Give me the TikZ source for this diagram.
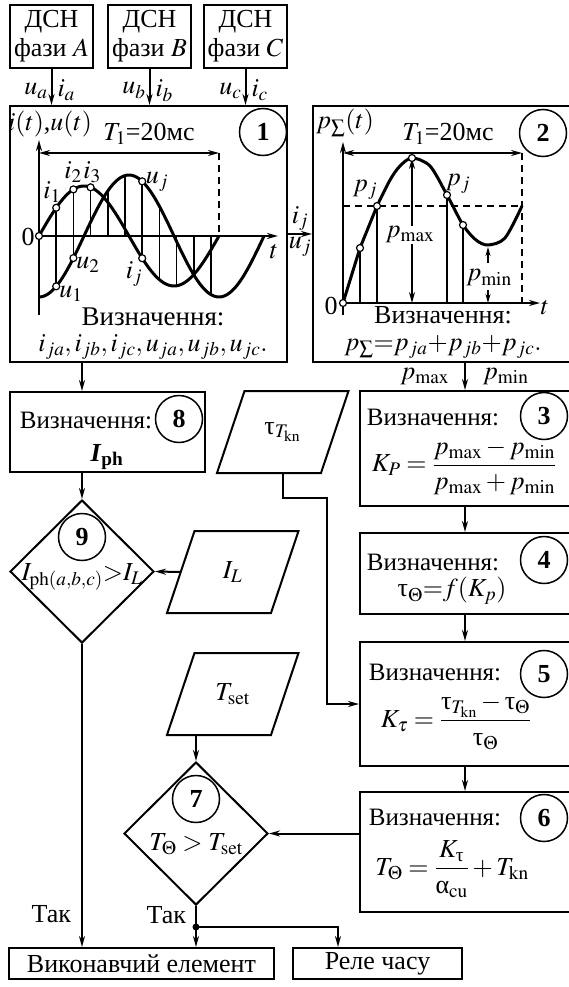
\documentclass[tikz,border=0pt]{standalone}
\usepackage{amsmath}
\usepackage{mathptmx}
\usepackage[no-math]{fontspec}
\setmainfont{Liberation Serif}
\usetikzlibrary{arrows.meta, calc, positioning, shapes.geometric}
\newcommand{\gtau}{\text{\upshape τ}}
\newcommand{\galpha}{\text{\upshape α}}
\tikzset{
  blk/.style={draw, line width=2pt, inner sep=0pt},
  num/.style={draw, circle, line width=1.5pt, minimum size=47pt, inner sep=0pt,
              font=\fontsize{26}{29}\selectfont\bfseries},
  decide/.style={draw, line width=2pt, diamond, minimum width=144pt,
                 minimum height=143pt, inner sep=0pt},
  flow/.style={line width=2pt, -{Stealth[length=11pt, width=6pt]}},
  link/.style={line width=2pt},
  wave/.style={line width=3pt, line join=round},
  hair/.style={line width=1.5pt},
  dim/.style={line width=1.5pt,
              {Stealth[length=11pt, width=6pt]}-{Stealth[length=11pt, width=6pt]}},
  dashline/.style={line width=1.5pt, dash pattern=on 7pt off 5pt},
  probe/.style={circle, draw, fill=white, line width=1.2pt, inner sep=0pt,
                minimum size=7pt},
  small/.style={font=\fontsize{25}{28}\selectfont},
}
\begin{document}
\begin{tikzpicture}[x=1pt, y=-1pt, inner sep=2pt, font=\fontsize{26}{29}\selectfont]
  \useasboundingbox (0,0) rectangle (568,987);
  % voltage sensors
  \node[blk, minimum width=83pt, minimum height=63pt, align=center] (dsnA) at (51.5,36.5) {ДСН\\фази $A$};
  \node[blk, minimum width=83pt, minimum height=63pt, align=center] (dsnB) at (149.5,36.5) {ДСН\\фази $B$};
  \node[blk, minimum width=83pt, minimum height=63pt, align=center] (dsnC) at (245.5,36.5) {ДСН\\фази $C$};
  % main blocks
  \node[blk, minimum width=277pt, minimum height=256pt] (b1) at (148.5,234) {};
  \node[blk, minimum width=257pt, minimum height=256pt] (b2) at (441.5,234) {};
  \node[blk, minimum width=210pt, minimum height=115pt] (b3) at (465,448.5) {};
  \node[blk, minimum width=210pt, minimum height=81pt] (b4) at (465,573.5) {};
  \node[blk, minimum width=210pt, minimum height=124pt] (b5) at (465,704) {};
  \node[blk, minimum width=210pt, minimum height=120pt] (b6) at (465,852) {};
  \node[blk, minimum width=195pt, minimum height=80pt] (b8) at (107.5,432) {};
  \node[decide] (d9) at (82,571.5) {};
  \node[decide] (d7) at (196,833.5) {};
  \node[blk, minimum width=265pt, minimum height=31pt] (act) at (141.5,963.5) {Виконавчий елемент};
  \node[blk, minimum width=169pt, minimum height=31pt] (relay) at (377.5,963.5) {Реле часу};
  % input data (parallelograms)
  \node (tau) at (282.5,432) {$\gtau_{T_\mathrm{kn}}$};
  \node (il) at (232.5,572) {$I_L$};
  \node (tset) at (232.5,694) {$T_\mathrm{set}$};
  \foreach \n in {tau, il, tset}
    \draw[link] ([shift={(-65.5,41)}]\n.center) -- ++(27.5,-82) -- ++(104,0)
      -- ++(-27.5,82) -- cycle;
  \coordinate (tau-out) at ([shift={(0,41)}]tau.center);
  \coordinate (il-out) at ([shift={(-51.75,0)}]il.center);
  \coordinate (tset-out) at ([shift={(0,41)}]tset.center);
  % step numbers
  \node[num] (n1) at (263,132) {1};
  \node[num] (n2) at (543,133) {2};
  \node[num] (n3) at (544,416) {3};
  \node[num] (n4) at (544,560) {4};
  \node[num] (n5) at (544,674) {5};
  \node[num] (n6) at (544,818) {6};
  \node[num] (n7) at (196,799) {7};
  \node[num] (n8) at (179,419) {8};
  \node[num] (n9) at (82,537) {9};

  % block 1: sampled currents and voltages
  \foreach \k in {1,...,10}{
    \pgfmathsetmacro\xs{39+17.2*\k}
    \pgfmathsetmacro\yi{236-50*sin(2*(\xs-39))}
    \pgfmathsetmacro\yu{236+61*cos(2*(\xs-39))}
    \pgfmathsetmacro\ya{min(\yi,\yu,236)}
    \pgfmathsetmacro\yb{max(\yi,\yu,236)}
    \draw[hair] (\xs,\ya) -- (\xs,\yb);
  }
  \draw[link, -{Stealth[length=11pt, width=6pt]}] (39,315) -- (39,140);
  \draw[link, -{Stealth[length=11pt, width=6pt]}] (39,236) -- (278,236);
  \draw[dim] (39,153) -- (219,153);
  \draw[dashline] (219,153) -- (219,236);
  \draw[wave] plot[domain=39:264, samples=120] (\x, {236+61*cos(2*(\x-39))});
  \draw[wave] plot[domain=39:219, samples=100] (\x, {236-50*sin(2*(\x-39))});
  \node[probe] at (39,236) {};
  \foreach \k in {1,2,6}{
    \pgfmathsetmacro\xs{39+17.2*\k}
    \node[probe] at (\xs, {236+61*cos(2*(\xs-39))}) {};
  }
  \foreach \k in {1,2,3,6}{
    \pgfmathsetmacro\xs{39+17.2*\k}
    \node[probe] at (\xs, {236-50*sin(2*(\xs-39))}) {};
  }
  \node[inner sep=0pt] at (50,124) {$i(t)$,$u(t)$};
  \node[inner sep=0pt] at (149,134) {$T_1$=20мс};
  \node at (28,237) {0};
  \node at (274,252) {$t$};
  \node at (52,192) {$i_1$};
  \node at (73,172) {$i_2$};
  \node at (92,172) {$i_3$};
  \node at (157,182) {$u_j$};
  \node at (88,265) {$u_2$};
  \node at (71,294) {$u_1$};
  \node at (134,274) {$i_j$};
  \node[font=\fontsize{27}{30}\selectfont] at (153,317) {Визначення:};
  \node at (153,347) {$i_{ja}, i_{jb}, i_{jc}, u_{ja}, u_{jb}, u_{jc}.$};

  % block 2: total power
  \foreach \px/\py in {360/248, 377/206, 447/195, 463/225}
    \draw[hair] (\px,303) -- (\px,\py);
  \draw[link, -{Stealth[length=11pt, width=6pt]}] (343,315) -- (343,142);
  \draw[link, -{Stealth[length=11pt, width=6pt]}] (343,303) -- (540,303);
  \draw[dim] (343,153) -- (522,153);
  \draw[dashline] (522,153) -- (522,303);
  \draw[dashline] (343,206) -- (522,206);
  \draw[wave] (343,303) -- (360,248) -- (377,206);
  \draw[wave] plot[smooth] coordinates {(377,206) (390,180) (400,166) (412,158)
    (430,166) (447,195) (463,225) (476,240) (488,245) (505,238) (522,206)};
  \draw[dim] (412,158) -- (412,303);
  \node[fill=white, inner sep=1pt] at (410,235) {$p_\mathrm{max}$};
  \draw[hair, -{Stealth[length=9pt, width=5pt]}] (488,263) -- (488,247);
  \draw[hair, -{Stealth[length=9pt, width=5pt]}] (488,290) -- (488,303);
  \node at (489,278) {$p_\mathrm{min}$};
  \foreach \px/\py in {343/303, 360/248, 377/206, 412/158, 447/195, 463/225}
    \node[probe] at (\px,\py) {};
  \node[inner sep=0pt] at (345,123) {$p_{\sum}(t)$};
  \node[inner sep=0pt] at (448,134) {$T_1$=20мс};
  \node at (331,306) {0};
  \node at (545,308) {$t$};
  \node at (365,190) {$p_j$};
  \node at (458,184) {$p_j$};
  \node at (443,315) {Визначення:};
  \node at (443,347) {$p_{\sum}{=}p_{ja}{+}p_{jb}{+}p_{jc}.$};

  % blocks 3--6 and 8
  \node[small] at (433,417) {Визначення:};
  \node at (464,467) {$K_P=\dfrac{p_\mathrm{max}-p_\mathrm{min}}{p_\mathrm{max}+p_\mathrm{min}}$};
  \node[small] at (433,562) {Визначення:};
  \node at (452,591) {$\gtau_\Theta{=}f(K_p)$};
  \node[small] at (435,672) {Визначення:};
  \node at (456,722) {$K_\tau=\dfrac{\gtau_{T_\mathrm{kn}}-\gtau_\Theta}{\gtau_\Theta}$};
  \node[small] at (435,817) {Визначення:};
  \node at (452,869) {$T_\Theta=\dfrac{K_\gtau}{\galpha_\mathrm{cu}}+T_\mathrm{kn}$};
  \node[small] at (86,420) {Визначення:};
  \node at (107,457) {\textbf{\textit{I}}\textsubscript{\textbf{ph}}};
  \node at (82,577) {$I_{\mathrm{ph}(a,b,c)}{>}I_L$};
  \node at (196,844) {$T_\Theta>T_\mathrm{set}$};

  % connections
  \draw[flow] (dsnA) -- (dsnA |- b1.north) node[pos=0.6, left=1pt] {$u_a$} node[pos=0.6, right=3pt] {$i_a$};
  \draw[flow] (dsnB) -- (dsnB |- b1.north) node[pos=0.6, left=1pt] {$u_b$} node[pos=0.6, right=3pt] {$i_b$};
  \draw[flow] (dsnC) -- (dsnC |- b1.north) node[pos=0.6, left=1pt] {$u_c$} node[pos=0.6, right=3pt] {$i_c$};
  \draw[flow] (b1.east) -- (b2.west) node[midway, above] {$i_j$} node[midway, below] {$u_j$};
  \draw[flow] (b3.north |- b2.south) -- (b3.north)
    node[midway, left=13pt] {$p_\mathrm{max}$} node[midway, right=15pt] {$p_\mathrm{min}$};
  \draw[flow] (b3) -- (b4);
  \draw[flow] (b4) -- (b5);
  \draw[flow] (b5) -- (b6);
  \draw[flow] (tau-out) -- ++(0,25) -| ([xshift=-32pt]b5.west) -- (b5.west);
  \draw[flow] (b6.west |- d7.east) -- (d7.east);
  \draw[flow] (d9.north |- b1.south) -- (d9.north |- b8.north);
  \draw[flow] (d9.north |- b8.south) -- (d9.north);
  \draw[flow] (il-out) -- (d9.east);
  \draw[flow] (d7.north |- tset-out) -- (d7.north);
  \draw[flow] (d9.south) -- (d9.south |- act.north) node[pos=0.89, left=8pt] {Так};
  \draw[flow] (d7.south) -- (d7.south |- act.north) node[pos=0.23, left=7pt] {Так};
  \coordinate (split) at (196,927);
  \fill (split) circle (3.5);
  \draw[flow] (split) -| ([xshift=46pt]relay.north west);
\end{tikzpicture}
\end{document}
